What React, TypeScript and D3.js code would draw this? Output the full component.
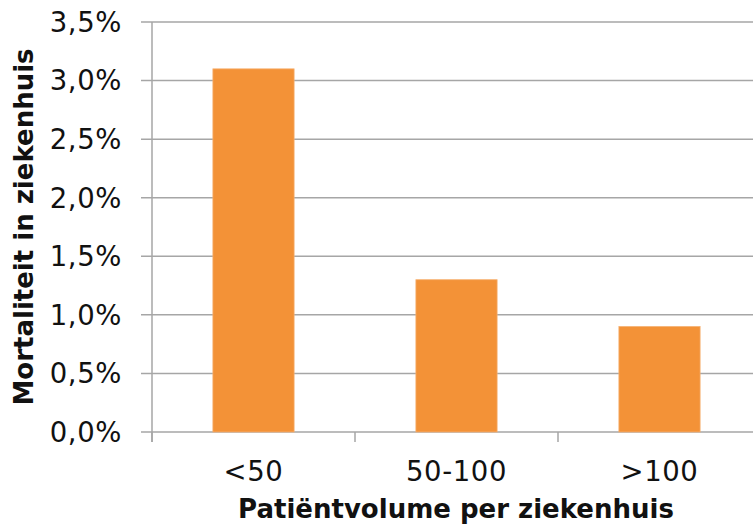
import React from "react";
import * as d3 from "d3";

const categories = ["<50", "50-100", ">100"];
const mortality = [3.1, 1.3, 0.9];
const yTicks = [0, 0.5, 1.0, 1.5, 2.0, 2.5, 3.0, 3.5];
const yTitle = "Mortaliteit in ziekenhuis";
const xTitle = "Patiëntvolume per ziekenhuis";

const W = 753;
const H = 526;
const left = 152;
const right = 761;
const top = 22;
const bottom = 432;
const font = "Verdana, 'DejaVu Sans', sans-serif";
const gridColor = "#a6a6a6";

export default function App() {
  const x = d3
    .scaleBand<string>()
    .domain(categories)
    .range([left, right])
    .paddingInner(0.6)
    .paddingOuter(0.3);
  const y = d3.scaleLinear().domain([0, 3.5]).range([bottom, top]);
  const fmt = (v: number) => v.toFixed(1).replace(".", ",") + "%";
  const step = x.step();
  const boundaries = categories.map((_, i) => left + i * step).concat([left + categories.length * step]);

  return (
    <svg
      width={W}
      height={H}
      style={{ position: "absolute", left: 0, top: 0, background: "#fff" }}
      fontFamily={font}
    >
      {yTicks.map((t) => (
        <g key={t}>
          <line x1={141} x2={right} y1={y(t)} y2={y(t)} stroke={gridColor} strokeWidth={1.5} />
          <text x={122} y={y(t)} dy="0.36em" textAnchor="end" fontSize={27.5} letterSpacing={0.6} fill="#111">
            {fmt(t)}
          </text>
        </g>
      ))}
      <line x1={left} x2={left} y1={top} y2={bottom + 10} stroke={gridColor} strokeWidth={1.5} />
      {boundaries.map((b, i) => (
        <line key={i} x1={b} x2={b} y1={bottom} y2={bottom + 10} stroke={gridColor} strokeWidth={1.5} />
      ))}
      {categories.map((c, i) => (
        <rect
          key={c}
          x={x(c)}
          y={y(mortality[i])}
          width={x.bandwidth()}
          height={bottom - y(mortality[i])}
          fill="#f39237"
          stroke="#f6b070"
          strokeWidth={0.8}
        />
      ))}
      {categories.map((c) => (
        <text
          key={c}
          x={(x(c) as number) + x.bandwidth() / 2}
          y={481}
          textAnchor="middle"
          fontSize={27.5}
          letterSpacing={0.6}
          fill="#111"
        >
          {c}
        </text>
      ))}
      <text x={456} y={518} textAnchor="middle" fontSize={26} fontWeight="bold" fill="#111">
        {xTitle}
      </text>
      <text
        transform={`translate(33,227) rotate(-90)`}
        textAnchor="middle"
        fontSize={26}
        fontWeight="bold"
        fill="#111"
      >
        {yTitle}
      </text>
    </svg>
  );
}
